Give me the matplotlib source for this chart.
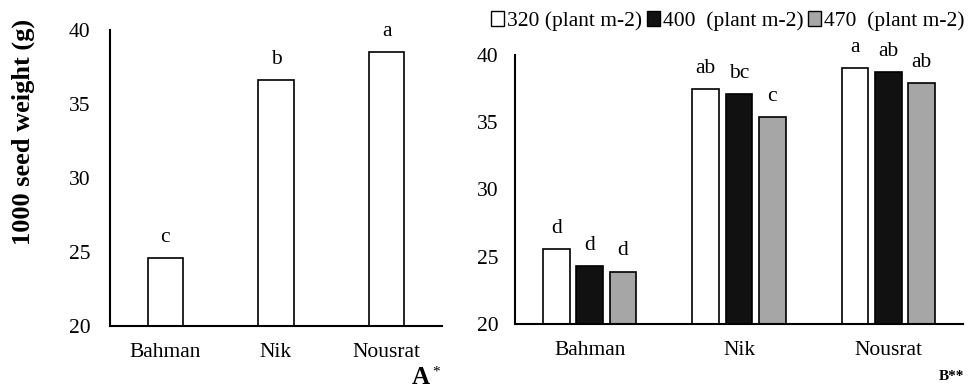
import matplotlib.pyplot as plt
import numpy as np
from matplotlib.patches import Patch

plt.rcParams['font.family'] = ['Liberation Serif', 'DejaVu Serif']

# Panel A: cultivar means
cultivars = ['Bahman', 'Nik', 'Nousrat']
weight_a = [24.6, 36.6, 38.5]
letters_a = ['c', 'b', 'a']

# Panel B: cultivar x density
densities = ['320 (plant m-2)', '400  (plant m-2)', '470  (plant m-2)']
weight_b = [
    [25.55, 37.45, 39.0],   # 320
    [24.3, 37.1, 38.7],     # 400
    [23.9, 35.4, 37.9],     # 470
]
letters_b = [
    ['d', 'ab', 'a'],
    ['d', 'bc', 'ab'],
    ['d', 'c', 'ab'],
]
colors = ['white', '#111111', '#a6a6a6']

fig = plt.figure(figsize=(9.68, 3.91), dpi=100)
ax1 = fig.add_axes([110 / 968, 65 / 391, 332 / 968, 296 / 391])
ax2 = fig.add_axes([515 / 968, 67 / 391, 448 / 968, 269 / 391])

fs = 15.5

def style(ax):
    for s in ['top', 'right']:
        ax.spines[s].set_visible(False)
    for s in ['left', 'bottom']:
        ax.spines[s].set_linewidth(1.5)
    ax.tick_params(length=0, labelsize=fs)
    ax.tick_params(axis='y', pad=14)
    ax.tick_params(axis='x', pad=12)
    ax.set_ylim(20, 40)
    ax.set_yticks([20, 25, 30, 35, 40])
    ax.set_xlim(-0.5, 2.5)

# panel A
x = np.arange(len(cultivars))
bars = ax1.bar(x, np.array(weight_a) - 20, bottom=20, width=0.32,
               color='white', edgecolor='black', linewidth=1.2)
for b, lab in zip(bars, letters_a):
    ax1.annotate(lab, (b.get_x() + b.get_width() / 2, b.get_y() + b.get_height()),
                 xytext=(0, 8), textcoords='offset points', ha='center', va='bottom', fontsize=fs)
style(ax1)
ax1.set_xticks(x)
ax1.set_xticklabels(cultivars)
ax1.set_ylabel('1000 seed weight (g)', fontsize=19, fontweight='bold', va='center')
ax1.yaxis.set_label_coords(-0.262, 0.655)

# panel B
w = 0.18
pitch = 0.223
for i in range(3):
    xs = x + (i - 1) * pitch
    bars = ax2.bar(xs, np.array(weight_b[i]) - 20, bottom=20, width=w,
                   color=colors[i], edgecolor='black', linewidth=1.2)
    for b, lab in zip(bars, letters_b[i]):
        ax2.annotate(lab, (b.get_x() + b.get_width() / 2, b.get_y() + b.get_height()),
                     xytext=(0, 8), textcoords='offset points', ha='center', va='bottom', fontsize=fs)
style(ax2)
ax2.tick_params(axis='y', pad=12)
ax2.set_xticks(x)
ax2.set_xticklabels(cultivars)

handles = [Patch(facecolor=c, edgecolor='black', linewidth=1) for c in colors]
fig.legend(handles, densities, loc='center', bbox_to_anchor=(728 / 968, 1 - 21 / 391),
           ncol=3, frameon=False, fontsize=fs, handlelength=0.6, handleheight=0.7,
           handletextpad=0.15, columnspacing=0.2, borderpad=0)

fig.text(421 / 968, 1 - 389 / 391, 'A', fontsize=18, fontweight='bold', ha='center', va='bottom')
fig.text(436 / 968, 1 - 372 / 391, '*', fontsize=11, ha='center', va='center')
fig.text(951 / 968, 1 - 377 / 391, 'B**', fontsize=11, fontweight='bold', ha='center', va='center')

fig.savefig('out.png', dpi=100)
